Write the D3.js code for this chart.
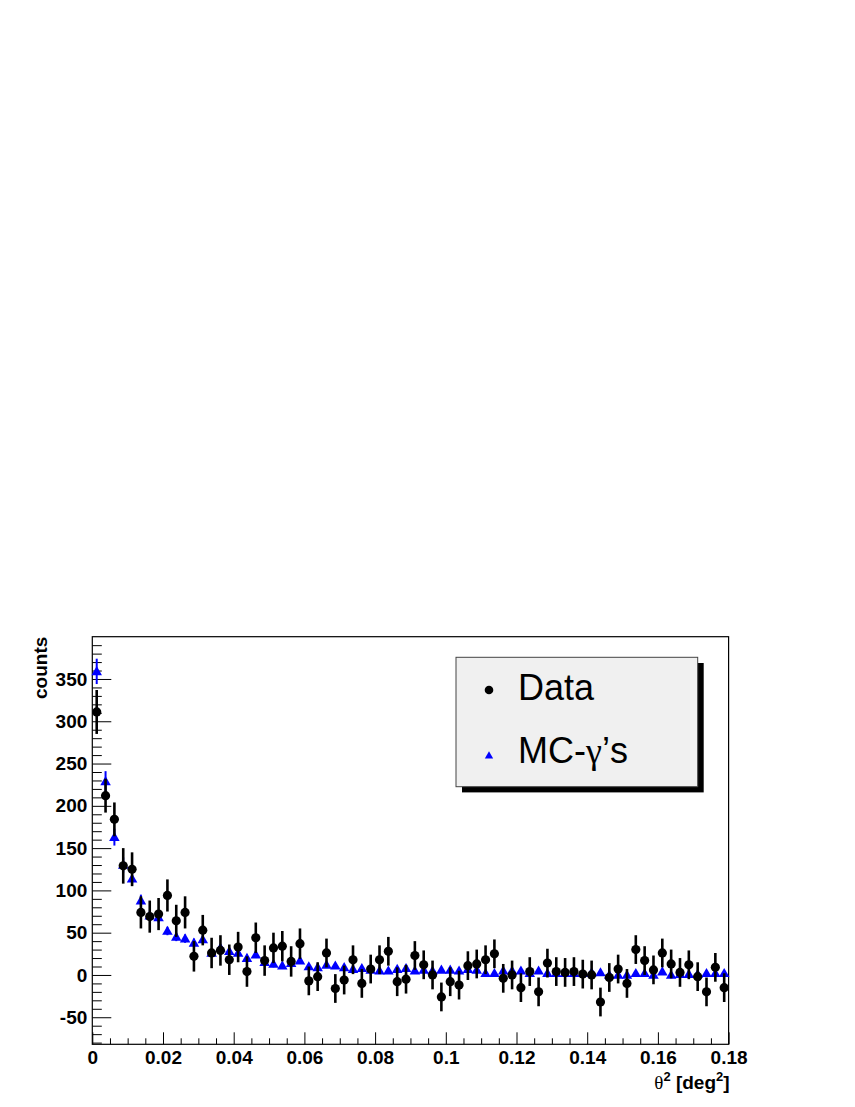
<!DOCTYPE html>
<html>
<head>
<meta charset="utf-8">
<script src="https://cdn.jsdelivr.net/npm/d3@7"></script>
<style>
  html, body { margin: 0; padding: 0; background: #fff; }
  svg { display: block; }
  text { font-family: "Liberation Sans", Arial, Helvetica, sans-serif; }
</style>
</head>
<body>
<svg id="chart" width="855" height="1107"></svg>
<script>
// ---------------- data ----------------
const binWidth = 0.0025;   // deg^2
const nBins = 72;
const dataCounts = [311, 212, 184, 129, 125, 74, 69, 72, 94, 64, 74, 22, 53, 26, 29, 18, 33, 4,
  44, 17, 32, 34, 16, 37, -7, -2, 26, -16, -6, 18, -10, 7, 18, 28, -8, -5, 23, 12, 0, -26,
  -8, -12, 11, 13, 18, 25, -4, 0, -15, 4, -20, 14, 4, 3, 4, 1, 0, -32, -3, 7, -10, 30, 17,
  6, 26, 13, 3, 12, -2, -20, 9, -15];
const dataErrors = [26, 20, 20, 21, 20, 19, 19, 19, 19, 19, 19, 18, 18, 18, 18, 18, 18, 18,
  18, 18, 18, 18, 18, 18, 17, 17, 17, 17, 17, 17, 17, 17, 17, 17, 17, 17, 17, 17, 17, 17,
  17, 17, 17, 17, 17, 17, 17, 17, 17, 17, 17, 17, 17, 17, 17, 17, 17, 17, 17, 17, 17, 17, 17,
  17, 17, 17, 17, 17, 17, 17, 17, 17];
const mcCounts = [359, 229, 163, 130, 114, 88, 70, 68, 52, 45, 43, 38, 42, 26, 32, 28, 26, 20,
  24, 15, 13, 11, 14, 17, 10, 9, 12, 11, 9, 7, 8, 6, 5, 5, 7, 8, 5, 6, 5, 6,
  6, 5, 7, 6, 2, 2, 5, 5, 5, 2, 5, 2, 2, 2, 2, 2, 3, 3, 0, 0, 0, 2, 2,
  0, 4, 0, 1, 1, 1, 2, 2, 2];
const mcErrors = [15, 12, 10, 9, 8, 7, 6, 6, 5, 5, 5, 5, 5, 4, 4, 4, 4, 4,
  4, 4, 4, 4, 4, 4, 3, 3, 3, 3, 3, 3, 3, 3, 3, 3, 3, 3, 3, 3, 3, 3,
  3, 3, 3, 3, 3, 3, 3, 3, 3, 3, 3, 3, 3, 3, 3, 3, 3, 3, 3, 3, 3, 3, 3,
  3, 3, 3, 3, 3, 3, 3, 3, 3];
const xTickValues = [0, 0.02, 0.04, 0.06, 0.08, 0.1, 0.12, 0.14, 0.16, 0.18];
const xTickLabels = ["0", "0.02", "0.04", "0.06", "0.08", "0.1", "0.12", "0.14", "0.16", "0.18"];
const yTickValues = [-50, 0, 50, 100, 150, 200, 250, 300, 350];
const yTickLabels = ["-50", "0", "50", "100", "150", "200", "250", "300", "350"];
const xDomain = [0, 0.18];
const yDomain = [-82, 400];
const legendLabels = ["Data", "MC-γ’s"];

// ---------------- layout ----------------
const L = 92.3, R = 728.6, T = 636.7, B = 1044.3;
const svg = d3.select("#chart");
const x = d3.scaleLinear().domain(xDomain).range([L, R]);
const y = d3.scaleLinear().domain(yDomain).range([B, T]);

const bins = d3.range(nBins).map(i => ({
  c: (i + 0.5) * binWidth,
  d: dataCounts[i], de: dataErrors[i],
  m: mcCounts[i], me: mcErrors[i]
}));

// ---------------- axes ----------------
const fontPx = 19;
const yMinor = d3.range(-80, 401, 10).filter(v => v % 50 !== 0);
svg.append("g").attr("transform", `translate(${L},0)`)
  .call(d3.axisLeft(y).tickValues(yMinor).tickSizeInner(-9.5).tickSizeOuter(0).tickFormat(""))
  .call(g => g.select(".domain").remove())
  .call(g => g.selectAll("line").attr("stroke", "#000").attr("stroke-width", 1));
svg.append("g").attr("transform", `translate(${L},0)`)
  .call(d3.axisLeft(y).tickValues(yTickValues).tickSizeInner(-19).tickSizeOuter(0)
    .tickPadding(5).tickFormat((d, i) => yTickLabels[i]))
  .call(g => g.select(".domain").remove())
  .call(g => g.selectAll("line").attr("stroke", "#000").attr("stroke-width", 1))
  .call(g => g.selectAll("text").attr("font-size", fontPx).attr("font-weight", "bold")
    .attr("fill", "#000").attr("font-family", '"Liberation Sans", Arial, sans-serif'));

const xMinor = d3.range(1, 36).map(i => i * 0.005).filter((v, i) => (i + 1) % 4 !== 0);
svg.append("g").attr("transform", `translate(0,${B})`)
  .call(d3.axisBottom(x).tickValues(xMinor).tickSizeInner(-6).tickSizeOuter(0).tickFormat(""))
  .call(g => g.select(".domain").remove())
  .call(g => g.selectAll("line").attr("stroke", "#000").attr("stroke-width", 1));
svg.append("g").attr("transform", `translate(0,${B})`)
  .call(d3.axisBottom(x).tickValues(xTickValues).tickSizeInner(-12).tickSizeOuter(0)
    .tickPadding(6).tickFormat((d, i) => xTickLabels[i]))
  .call(g => g.select(".domain").remove())
  .call(g => g.selectAll("line").attr("stroke", "#000").attr("stroke-width", 1))
  .call(g => g.selectAll("text").attr("font-size", fontPx).attr("font-weight", "bold")
    .attr("fill", "#000").attr("font-family", '"Liberation Sans", Arial, sans-serif'));

// frame
svg.append("rect").attr("x", L).attr("y", T).attr("width", R - L).attr("height", B - T)
  .attr("fill", "none").attr("stroke", "#000").attr("stroke-width", 1.2);

// axis titles
svg.append("text").attr("transform", `translate(47,${T}) rotate(-90)`)
  .attr("text-anchor", "end").attr("font-size", fontPx).attr("font-weight", "bold")
  .text("counts");

const xt = svg.append("text").attr("x", R + 1).attr("y", 1089).attr("text-anchor", "end")
  .attr("font-size", fontPx).attr("font-weight", "bold");
xt.append("tspan").attr("font-family", '"Liberation Serif", "DejaVu Serif", serif')
  .attr("font-weight", "normal").text("θ");
xt.append("tspan").attr("font-size", 13).attr("dy", -8).text("2");
xt.append("tspan").attr("dy", 8).text(" [deg");
xt.append("tspan").attr("font-size", 13).attr("dy", -8).text("2");
xt.append("tspan").attr("dy", 8).text("]");

// ---------------- marks ----------------
const plot = svg.append("g");
// MC error bars
plot.append("g").selectAll("line").data(bins).join("line")
  .attr("x1", d => x(d.c)).attr("x2", d => x(d.c))
  .attr("y1", d => y(d.m - d.me)).attr("y2", d => y(d.m + d.me))
  .attr("stroke", "#0000ff").attr("stroke-width", 2);
// MC triangles
const tri = d3.symbol().type(d3.symbolTriangle).size(48);
plot.append("g").selectAll("path").data(bins).join("path")
  .attr("transform", d => `translate(${x(d.c)},${y(d.m) + 0.8})`)
  .attr("d", tri).attr("fill", "#0000ff");

// data error bars
plot.append("g").selectAll("line").data(bins).join("line")
  .attr("x1", d => x(d.c)).attr("x2", d => x(d.c))
  .attr("y1", d => y(d.d - d.de)).attr("y2", d => y(d.d + d.de))
  .attr("stroke", "#000").attr("stroke-width", 2.6);
// data points
plot.append("g").selectAll("circle").data(bins).join("circle")
  .attr("cx", d => x(d.c)).attr("cy", d => y(d.d)).attr("r", 4.6).attr("fill", "#000");

// ---------------- legend ----------------
const lg = svg.append("g");
lg.append("rect").attr("x", 462).attr("y", 663).attr("width", 241.7).attr("height", 129.4).attr("fill", "#000");
lg.append("rect").attr("x", 456).attr("y", 657.3).attr("width", 241.7).attr("height", 129.4)
  .attr("fill", "#f0f0f0").attr("stroke", "#444").attr("stroke-width", 1);
lg.append("circle").attr("cx", 489).attr("cy", 690).attr("r", 4.3).attr("fill", "#000");
lg.append("path").attr("transform", "translate(489,756)")
  .attr("d", d3.symbol().type(d3.symbolTriangle).size(30)).attr("fill", "#0000ff");
lg.append("text").attr("x", 518).attr("y", 700).attr("font-size", 36).text(legendLabels[0]);
const mcText = lg.append("text").attr("x", 518).attr("y", 763).attr("font-size", 36);
mcText.append("tspan").text("MC-");
mcText.append("tspan").attr("font-family", '"Liberation Serif", "DejaVu Serif", serif').text("γ");
mcText.append("tspan").text("’s");
</script>
</body>
</html>
